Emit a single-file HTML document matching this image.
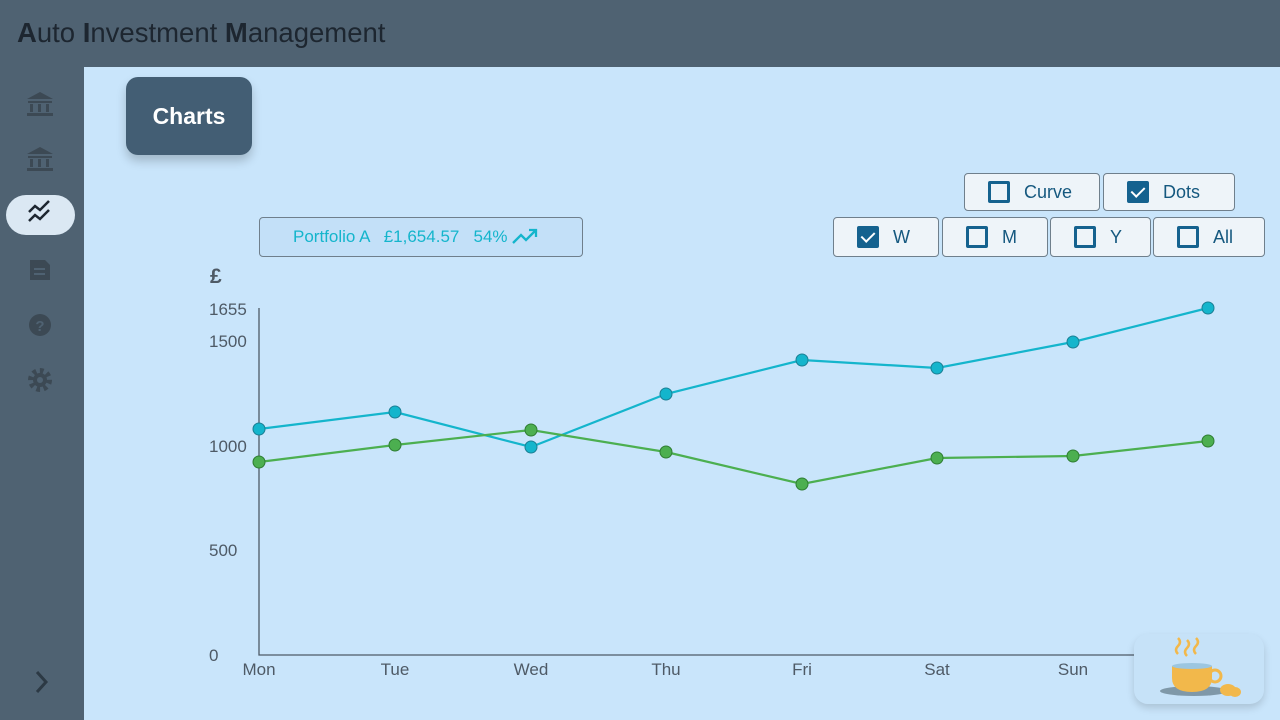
<!DOCTYPE html>
<html><head><meta charset="utf-8"><style>
*{margin:0;padding:0;box-sizing:border-box}
body{width:1280px;height:720px;overflow:hidden;background:#4f6272;font-family:"Liberation Sans","DejaVu Sans",sans-serif;position:relative}
.title{position:absolute;left:17px;top:17px;font-size:27.5px;color:#1d2630}
.title b{font-weight:bold}
.main{position:absolute;left:84px;top:67px;width:1196px;height:653px;background:#c9e5fb}
.btn{position:absolute;background:#eef4f9;border:1px solid #6f7f8c;border-radius:4px;color:#15587f;font-size:18px;display:flex;align-items:center}
.cb{width:22px;height:22px;border:3px solid #15628f;border-radius:2px;margin-right:14px;position:relative}
.cb.on{background:#15628f}
.cb.on:after{content:"";position:absolute;left:4px;top:0px;width:6px;height:11px;border:solid #fff;border-width:0 2px 2px 0;transform:rotate(45deg)}
.lbl{position:absolute;font-size:17px;color:#4e5a66}
</style></head><body>
<div class="title"><b>A</b>uto <b>I</b>nvestment <b>M</b>anagement</div>
<svg style="position:absolute;left:0;top:67px" width="84" height="653">
<g fill="#3c4954">
<path d="M40 25 l-13 7 h26z"/><rect x="28" y="34" width="24" height="2"/><rect x="30" y="37" width="3" height="8"/><rect x="38" y="37" width="3" height="8"/><rect x="46" y="37" width="3" height="8"/><rect x="27" y="46" width="26" height="3"/>
<path d="M40 80 l-13 7 h26z"/><rect x="28" y="89" width="24" height="2"/><rect x="30" y="92" width="3" height="8"/><rect x="38" y="92" width="3" height="8"/><rect x="46" y="92" width="3" height="8"/><rect x="27" y="101" width="26" height="3"/>
</g>
<rect x="6" y="128" width="69" height="40" rx="20" fill="#dbe8f3"/>
<path d="M29 145 l6 -6 l5 4 l9 -9 M29 154 l6 -6 l5 4 l9 -9" stroke="#1d2630" stroke-width="2.5" fill="none"/>
<path d="M30 193 h15 l5 5 v15 h-20z" fill="#3c4954"/><rect x="34" y="201" width="11" height="2" fill="#4f6272"/><rect x="34" y="206" width="11" height="2" fill="#4f6272"/>
<circle cx="40" cy="258" r="11" fill="#3c4954"/><text x="40" y="264" font-size="15" font-weight="bold" text-anchor="middle" fill="#4f6272">?</text>
<circle cx="40" cy="313" r="9" fill="none" stroke="#3c4954" stroke-width="6" stroke-dasharray="3.5 3.5"/><circle cx="40" cy="313" r="7" fill="#3c4954"/><circle cx="40" cy="313" r="3" fill="#4f6272"/>
<path d="M37 605 l9 10 l-9 10" stroke="#2c3944" stroke-width="3" fill="none"/>
</svg>
<div class="main"></div>
<div style="position:absolute;left:126px;top:77px;width:126px;height:78px;background:#435e74;border-radius:12px;box-shadow:0 6px 10px rgba(0,0,0,.2);color:#fff;font-weight:bold;font-size:23px;display:flex;align-items:center;justify-content:center">Charts</div>
<div style="position:absolute;left:259px;top:217px;width:324px;height:40px;background:#c3e0f8;border:1px solid #6f7f8c;border-radius:4px;color:#14b5cc;font-size:17px;display:flex;align-items:center;padding-left:33px">Portfolio A &nbsp;&nbsp;£1,654.57 &nbsp;&nbsp;54%<svg width="28" height="20" style="margin-left:3px"><path d="M2 16 l8 -8 l5 5 l10 -10 M18 3 h7 v7" stroke="#14b5cc" stroke-width="2.3" fill="none"/></svg></div>
<div class="btn" style="left:964px;top:173px;width:136px;height:38px;padding-left:23px"><div class="cb"></div>Curve</div>
<div class="btn" style="left:1103px;top:173px;width:132px;height:38px;padding-left:23px"><div class="cb on"></div>Dots</div>
<div class="btn" style="left:833px;top:217px;width:106px;height:40px;padding-left:23px"><div class="cb on"></div>W</div>
<div class="btn" style="left:942px;top:217px;width:106px;height:40px;padding-left:23px"><div class="cb"></div>M</div>
<div class="btn" style="left:1050px;top:217px;width:101px;height:40px;padding-left:23px"><div class="cb"></div>Y</div>
<div class="btn" style="left:1153px;top:217px;width:112px;height:40px;padding-left:23px"><div class="cb"></div>All</div>
<div style="position:absolute;left:210px;top:265px;font-size:21px;font-weight:bold;color:#4e5a66">£</div>
<div class="lbl" style="left:209px;top:300px">1655</div>
<div class="lbl" style="left:209px;top:332px">1500</div>
<div class="lbl" style="left:209px;top:437px">1000</div>
<div class="lbl" style="left:209px;top:541px">500</div>
<div class="lbl" style="left:209px;top:646px">0</div>
<svg style="position:absolute;left:0;top:0" width="1280" height="720">
<path d="M259 308 V655 H1140" stroke="#4e5a66" stroke-width="1.3" fill="none"/>
<g font-size="17" fill="#4e5a66" text-anchor="middle" font-family="Liberation Sans,sans-serif">
<text x="259" y="675">Mon</text><text x="395" y="675">Tue</text><text x="531" y="675">Wed</text><text x="666" y="675">Thu</text><text x="802" y="675">Fri</text><text x="937" y="675">Sat</text><text x="1073" y="675">Sun</text></g>
<polyline points="259,429 395,412 531,447 666,394 802,360 937,368 1073,342 1208,308" stroke="#14b5cc" stroke-width="2.2" fill="none"/>
<polyline points="259,462 395,445 531,430 666,452 802,484 937,458 1073,456 1208,441" stroke="#4caf50" stroke-width="2.2" fill="none"/>
<g fill="#14b5cc" stroke="#1a7f94" stroke-width="1"><circle cx="259" cy="429" r="6"/><circle cx="395" cy="412" r="6"/><circle cx="531" cy="447" r="6"/><circle cx="666" cy="394" r="6"/><circle cx="802" cy="360" r="6"/><circle cx="937" cy="368" r="6"/><circle cx="1073" cy="342" r="6"/><circle cx="1208" cy="308" r="6"/></g>
<g fill="#4caf50" stroke="#2e7d32" stroke-width="1"><circle cx="259" cy="462" r="6"/><circle cx="395" cy="445" r="6"/><circle cx="531" cy="430" r="6"/><circle cx="666" cy="452" r="6"/><circle cx="802" cy="484" r="6"/><circle cx="937" cy="458" r="6"/><circle cx="1073" cy="456" r="6"/><circle cx="1208" cy="441" r="6"/></g>
</svg>
<div style="position:absolute;left:1134px;top:634px;width:130px;height:70px;background:#c6e2f8;border-radius:14px;box-shadow:0 4px 8px rgba(0,0,0,.15)"></div>
<svg style="position:absolute;left:1134px;top:634px" width="130" height="70">
<path d="M44 20 q-4 -4 0 -8 q4 -4 0 -8 M53 22 q-4 -4 0 -8 q4 -4 0 -8 M62 20 q-4 -4 0 -8 q4 -4 0 -8" stroke="#f2b84b" stroke-width="2.5" fill="none"/>
<ellipse cx="60" cy="57" rx="34" ry="5" fill="#7f98a8"/>
<path d="M38 32 h40 v12 q0 14 -20 14 q-20 0 -20 -14z" fill="#f2b84b"/>
<ellipse cx="58" cy="32" rx="20" ry="3" fill="#9cc6e0"/>
<circle cx="81" cy="42" r="6" fill="none" stroke="#f2b84b" stroke-width="3"/>
<ellipse cx="94" cy="56" rx="8" ry="6" fill="#f2b84b"/><ellipse cx="101" cy="58" rx="6" ry="5" fill="#f2b84b"/>
</svg>
</body></html>
